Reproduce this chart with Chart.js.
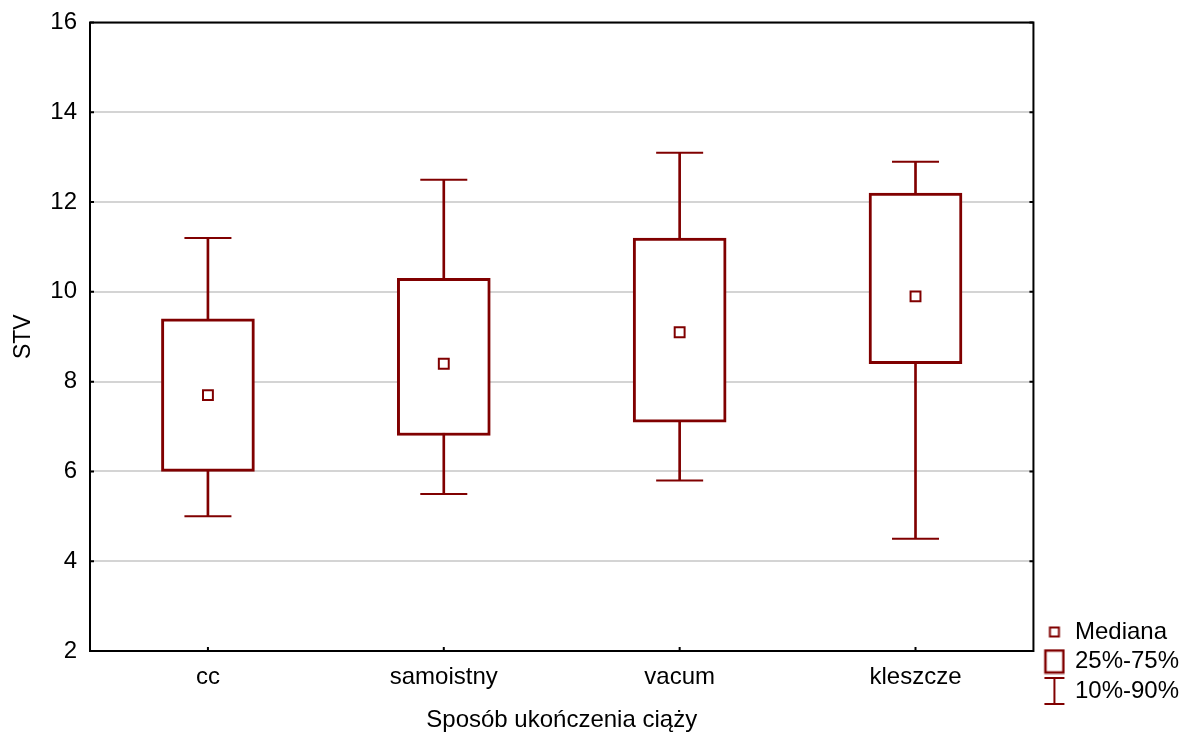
<!DOCTYPE html>
<html>
<head>
<meta charset="utf-8">
<script src="https://cdn.jsdelivr.net/npm/chart.js@4/dist/chart.umd.min.js"></script>
<style>
  html, body { margin: 0; padding: 0; background: #fff; overflow: hidden; }
  #c { display: block; margin-top: -3px; }
</style>
</head>
<body>
<canvas id="c" width="1184" height="738"></canvas>
<script>
// dane
const categories = ['cc', 'samoistny', 'vacum', 'kleszcze'];
const p10 = [5.0, 5.5, 5.8, 4.5];
const q25 = [6.0, 6.8, 7.1, 8.4];
const medians = [7.7, 8.4, 9.1, 9.9];
const q75 = [9.4, 10.3, 11.2, 12.2];
const p90 = [11.2, 12.5, 13.1, 12.9];
const yTicks = [2, 4, 6, 8, 10, 12, 14, 16];
const legendNames = ['Mediana', '25%-75%', '10%-90%'];

const RED = '#800000';
const FONT = 'Arial, "Liberation Sans", sans-serif';

// ikonki legendy (przesunięte o kilka px w prawo)
function icon(w, h, draw) {
    const c = document.createElement('canvas');
    c.width = w + 7; c.height = h;
    const g = c.getContext('2d');
    g.strokeStyle = RED;
    g.translate(7, 0);
    draw(g);
    return c;
}
const medIcon = icon(14, 14, g => { g.lineWidth = 2; g.strokeRect(2.5, 2.5, 9, 9); });
const boxIcon = icon(22, 26, g => { g.lineWidth = 2.5; g.strokeRect(2, 2, 18, 22); });
const whiskIcon = icon(24, 30, g => {
    g.lineWidth = 2;
    g.beginPath();
    g.moveTo(2, 2); g.lineTo(22, 2);
    g.moveTo(12, 2); g.lineTo(12, 28);
    g.moveTo(2, 28); g.lineTo(22, 28);
    g.stroke();
});
const blankIcon = icon(2, 2, g => {});
const legendIcons = [medIcon, boxIcon, whiskIcon];

// ramka wykresu + ząbki do środka
const frame = {
    id: 'frame',
    afterDraw(chart) {
        const { ctx, chartArea: a, scales } = chart;
        ctx.save();
        ctx.strokeStyle = '#000';
        ctx.lineWidth = 2;
        ctx.strokeRect(a.left, a.top, a.right - a.left, a.bottom - a.top);
        ctx.beginPath();
        scales.y.ticks.forEach((t, i) => {
            const y = scales.y.getPixelForTick(i);
            ctx.moveTo(a.left, y); ctx.lineTo(a.left + 4, y);
            ctx.moveTo(a.right, y); ctx.lineTo(a.right - 4, y);
        });
        scales.x.ticks.forEach((t, i) => {
            const x = scales.x.getPixelForTick(i);
            ctx.moveTo(x, a.bottom); ctx.lineTo(x, a.bottom - 4);
        });
        ctx.stroke();
        ctx.restore();
    }
};

new Chart(document.getElementById('c'), {
    type: 'bar',
    data: {
        labels: categories,
        datasets: [
            {
                label: 'whiskers',
                data: p10.map((v, i) => [v, p90[i]]),
                backgroundColor: RED,
                borderWidth: 0,
                barThickness: 2,
                grouped: false,
                order: 3
            },
            {
                label: 'box',
                data: q25.map((v, i) => [v, q75[i]]),
                backgroundColor: '#fff',
                borderColor: RED,
                borderWidth: 3,
                borderSkipped: false,
                barThickness: 93,
                grouped: false,
                order: 2
            },
            {
                type: 'line',
                label: 'p10',
                data: p10,
                showLine: false,
                pointStyle: 'line',
                pointRadius: 23.5,
                borderColor: RED,
                borderWidth: 2,
                order: 1
            },
            {
                type: 'line',
                label: 'p90',
                data: p90,
                showLine: false,
                pointStyle: 'line',
                pointRadius: 23.5,
                borderColor: RED,
                borderWidth: 2,
                order: 1
            },
            {
                type: 'line',
                label: 'Mediana',
                data: medians,
                showLine: false,
                pointStyle: 'rect',
                pointRadius: 7,
                backgroundColor: '#fff',
                borderColor: RED,
                borderWidth: 2,
                order: 0
            }
        ]
    },
    options: {
        responsive: false,
        animation: false,
        events: [],
        layout: { padding: { top: 19, left: 0, right: -5, bottom: -3 } },
        plugins: {
            tooltip: { enabled: false },
            legend: {
                position: 'right',
                align: 'end',
                labels: {
                    usePointStyle: true,
                    boxWidth: 24,
                    boxHeight: 24,
                    padding: 5.5,
                    color: '#000',
                    font: { family: FONT, size: 24 },
                    generateLabels: () => legendNames.map((t, i) => ({
                        text: t, pointStyle: legendIcons[i], hidden: false,
                        lineWidth: 0, fontColor: '#000', datasetIndex: i
                    })).concat([{ text: '', pointStyle: blankIcon, hidden: false, lineWidth: 0 }])
                }
            }
        },
        scales: {
            x: {
                grid: { display: false, drawTicks: false },
                border: { display: false },
                ticks: { color: '#000', padding: 12, font: { family: FONT, size: 24 } },
                title: {
                    display: true, text: 'Sposób ukończenia ciąży', color: '#000',
                    font: { family: FONT, size: 24 }, padding: { top: 0, bottom: 3 }
                },
                afterFit: s => { s.height = 87; }
            },
            y: {
                min: 2, max: 16,
                afterBuildTicks: s => { s.ticks = yTicks.map(v => ({ value: v })); },
                grid: { color: '#d4d4d4', lineWidth: 2, drawTicks: false },
                border: { display: false },
                ticks: { color: '#000', padding: 13, font: { family: FONT, size: 24 } },
                title: {
                    display: true, text: 'STV', color: '#000',
                    font: { family: FONT, size: 23 }, padding: { top: 10, bottom: 0 }
                },
                afterFit: s => { s.width = 90; s.paddingTop = 0; s.paddingBottom = 0; }
            }
        }
    },
    plugins: [frame]
});
</script>
</body>
</html>
